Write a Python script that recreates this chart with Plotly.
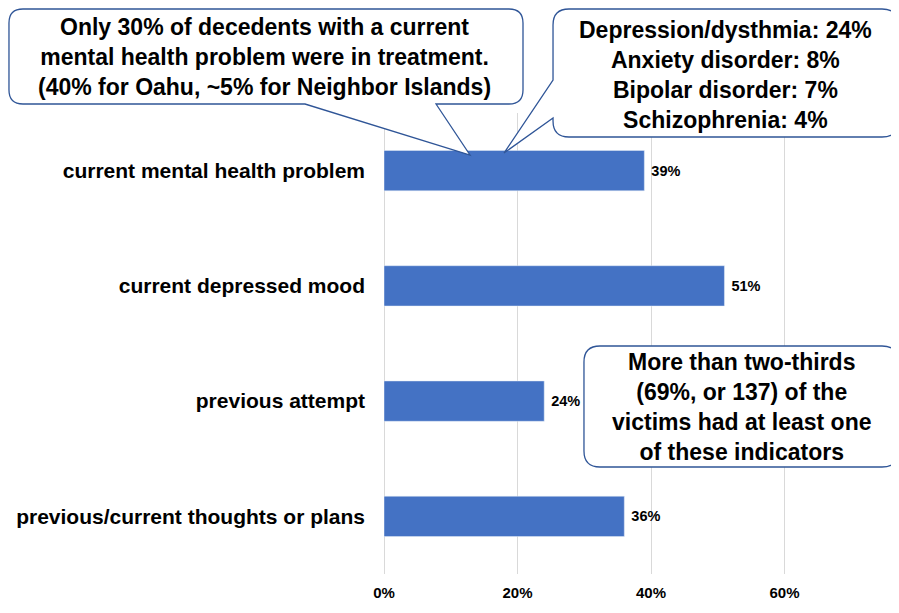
import plotly.graph_objects as go

# indicators among suicide decedents
indicators = ["current mental health problem", "current depressed mood",
              "previous attempt", "previous/current thoughts or plans"]
shares = [0.39, 0.51, 0.24, 0.36]
tick_vals = [0, 0.2, 0.4, 0.6]

note_treatment = ("Only 30% of decedents with a current<br>"
                  "mental health problem were in treatment.<br>"
                  "(40% for Oahu, ~5% for Neighbor Islands)")
note_diagnoses = ("Depression/dysthmia: 24%<br>Anxiety disorder: 8%<br>"
                  "Bipolar disorder: 7%<br>Schizophrenia: 4%")
note_any = ("More than two-thirds<br>(69%, or 137) of the<br>"
            "victims had at least one<br>of these indicators")

# page body has an 8px margin, so the figure is a bit smaller than the window
OFF = 8
W, H = 899 - OFF, 613 - OFF
L, R, T, B = 384 - OFF, 0, 113 - OFF, 39
PW, PH = W - L - R, H - T - B
BLUE = "#4472C4"
EDGE = "#2F5597"
FONT = "Arial, Liberation Sans, sans-serif"


def px(x):
    # screen pixel -> paper
    return (x - OFF - L) / PW


def py(y):
    return (T + PH - (y - OFF)) / PH


def callout(x0, y0, x1, y1, r, bottom_tail=None, left_tail=None):
    P = lambda x, y: f"{px(x):.4f},{py(y):.4f}"
    d = (f"M{P(x0 + r, y0)} L{P(x1 - r, y0)} Q{P(x1, y0)} {P(x1, y0 + r)} "
         f"L{P(x1, y1 - r)} Q{P(x1, y1)} {P(x1 - r, y1)}")
    if bottom_tail:
        a, b, tx, ty = bottom_tail
        d += f" L{P(a, y1)} L{P(tx, ty)} L{P(b, y1)}"
    d += f" L{P(x0 + r, y1)} Q{P(x0, y1)} {P(x0, y1 - r)}"
    if left_tail:
        a, b, tx, ty = left_tail
        d += f" L{P(x0, a)} L{P(tx, ty)} L{P(x0, b)}"
    d += f" L{P(x0, y0 + r)} Q{P(x0, y0)} {P(x0 + r, y0)} Z"
    return dict(type="path", xref="paper", yref="paper", path=d,
                fillcolor="white", line=dict(color=EDGE, width=1.3),
                layer="above")


fig = go.Figure(go.Bar(
    x=shares, y=indicators, orientation="h", width=0.35,
    marker_color=BLUE, texttemplate=" %{x:.0%}", textposition="outside",
    textfont=dict(size=14.5, color="black", family=FONT, weight="bold"),
    cliponaxis=False,
))

fig.update_layout(
    width=W, height=H,
    margin=dict(l=L, r=R, t=T, b=B),
    plot_bgcolor="white", paper_bgcolor="white",
    showlegend=False,
    font=dict(family=FONT, color="black"),
    xaxis=dict(range=[0, 0.7715], tickvals=tick_vals, tickformat=".0%",
               showgrid=True, gridcolor="#D9D9D9", gridwidth=1,
               zeroline=True, zerolinecolor="#D9D9D9", zerolinewidth=1,
               showline=False, ticks="", ticklabelstandoff=8,
               tickfont=dict(size=15, weight="bold"), automargin=False),
    yaxis=dict(autorange="reversed", showgrid=False, showline=False,
               ticks="", ticklabelstandoff=18,
               tickfont=dict(size=21, weight="bold"), automargin=False),
    shapes=[
        callout(9, 9, 523, 104, 14, bottom_tail=(436, 305, 470, 155)),
        callout(553, 9, 898, 137, 16, left_tail=(118, 80, 504, 153)),
        callout(584, 346, 898, 467, 16),
    ],
)

for text, cx, cy in [(note_treatment, 264, 57), (note_diagnoses, 725, 75),
                     (note_any, 741, 407)]:
    fig.add_annotation(text=text, xref="paper", yref="paper",
                       x=px(cx), y=py(cy), showarrow=False, align="center",
                       xanchor="center", yanchor="middle",
                       font=dict(size=23, weight="bold", color="black"))

fig.write_html("out.html")
